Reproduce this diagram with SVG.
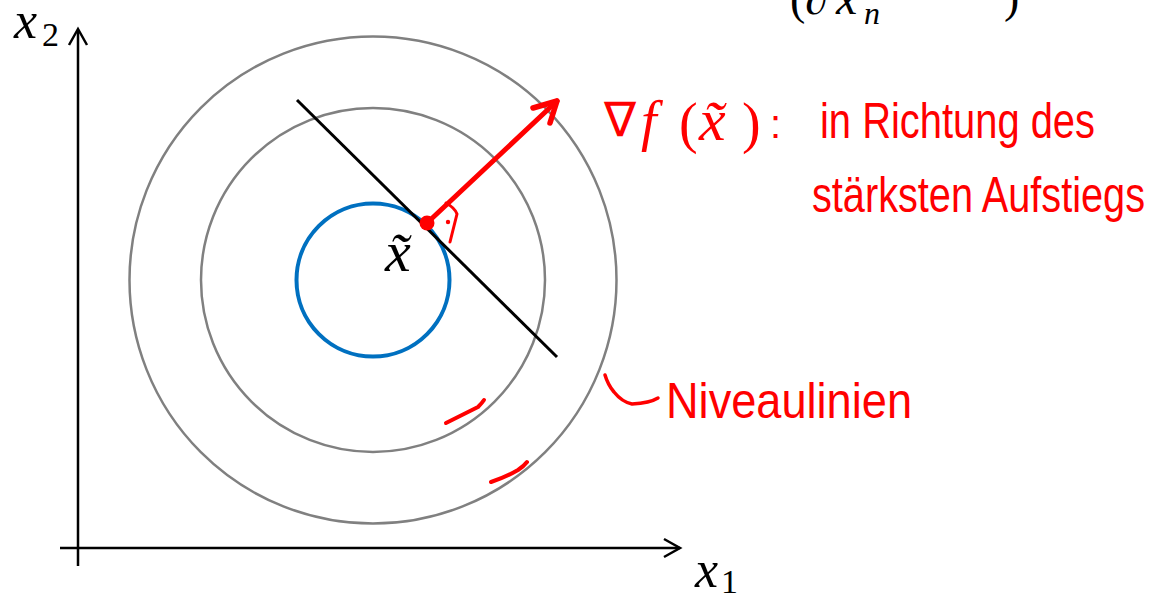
<svg xmlns="http://www.w3.org/2000/svg" width="1153" height="593" viewBox="0 0 1153 593">
<style>
.math{font-family:"Liberation Serif","DejaVu Serif",serif;font-style:italic;fill:#000}
.up{font-style:normal}
.hand{font-family:"Liberation Sans","DejaVu Sans",sans-serif;fill:#ff0000}
.rm{font-family:"Liberation Serif","DejaVu Serif",serif;fill:#ff0000}
.lvl{fill:none;stroke:#808080;stroke-width:2.5}
.axis{fill:none;stroke:#000;stroke-width:2.5}
.red{fill:none;stroke:#ff0000;stroke-linecap:round;stroke-linejoin:round}
</style>
<rect width="1153" height="593" fill="#fff"/>
<g id="top-formula">
<text class="math up" x="790" y="14" font-size="46">(∂</text>
<text class="math" x="836" y="14" font-size="48">x</text>
<text class="math" x="864" y="24" font-size="32">n</text>
<text class="math up" x="1004" y="12" font-size="46">)</text>
</g>
<g id="axes">
<path class="axis" d="M78 30 V566 M60 548 H680"/>
<path class="axis" d="M69 45 L78 29 L87 45 M664 539 L680 548 L664 557"/>
<text class="math" x="14" y="38" font-size="52">x</text>
<text class="math up" x="42" y="46" font-size="34">2</text>
<text class="math" x="695" y="587" font-size="52">x</text>
<text class="math up" x="721" y="593" font-size="34">1</text>
</g>
<g id="level-lines">
<circle class="lvl" cx="373" cy="280" r="243.5"/>
<circle class="lvl" cx="373" cy="280" r="172"/>
<circle cx="373" cy="280" r="76.5" fill="none" stroke="#0070c0" stroke-width="4"/>
</g>
<g id="tangent">
<line x1="297" y1="100" x2="557" y2="357" stroke="#000" stroke-width="3"/>
</g>
<g id="point">
<circle cx="427" cy="223" r="7.5" fill="#ff0000"/>
<text class="math" x="385" y="271" font-size="58">x&#x303;</text>
</g>
<g id="gradient">
<path class="red" stroke-width="5" d="M427 223 L557 101"/>
<path class="red" stroke-width="5.5" d="M533 108 L557 101 L550 123"/>
<path class="red" stroke-width="3" d="M446 203 Q455 208 457 214 L450 242"/>
<circle cx="448" cy="222" r="2.2" fill="#ff0000"/>
</g>
<g id="gradient-label">
<text class="hand" x="604" y="136" font-size="48">∇</text>
<text class="rm" x="641" y="140" font-size="56" font-style="italic">f</text>
<text class="rm" x="679" y="142" font-size="56">(</text>
<text class="rm" x="699" y="140" font-size="60" font-style="italic">x&#x303;</text>
<text class="rm" x="742" y="142" font-size="56">)</text>
<text class="hand" x="770" y="138" font-size="40">:</text>
<text class="hand" x="820" y="138" font-size="50" textLength="275" lengthAdjust="spacingAndGlyphs">in Richtung des</text>
<text class="hand" x="812" y="212" font-size="50" textLength="333" lengthAdjust="spacingAndGlyphs">stärksten Aufstiegs</text>
</g>
<g id="level-label">
<path class="red" stroke-width="3.5" d="M605 375 Q608 385 614 392 Q622 402 632 404 Q650 403 658 398"/>
<text class="hand" x="666" y="418" font-size="50" textLength="246" lengthAdjust="spacingAndGlyphs">Niveaulinien</text>
<path class="red" stroke-width="4" d="M446 423 Q462 415 478 407 Q482 403 484 400"/>
<path class="red" stroke-width="4" d="M491 482 Q506 477 518 470 Q524 466 527 462"/>
</g>
</svg>
